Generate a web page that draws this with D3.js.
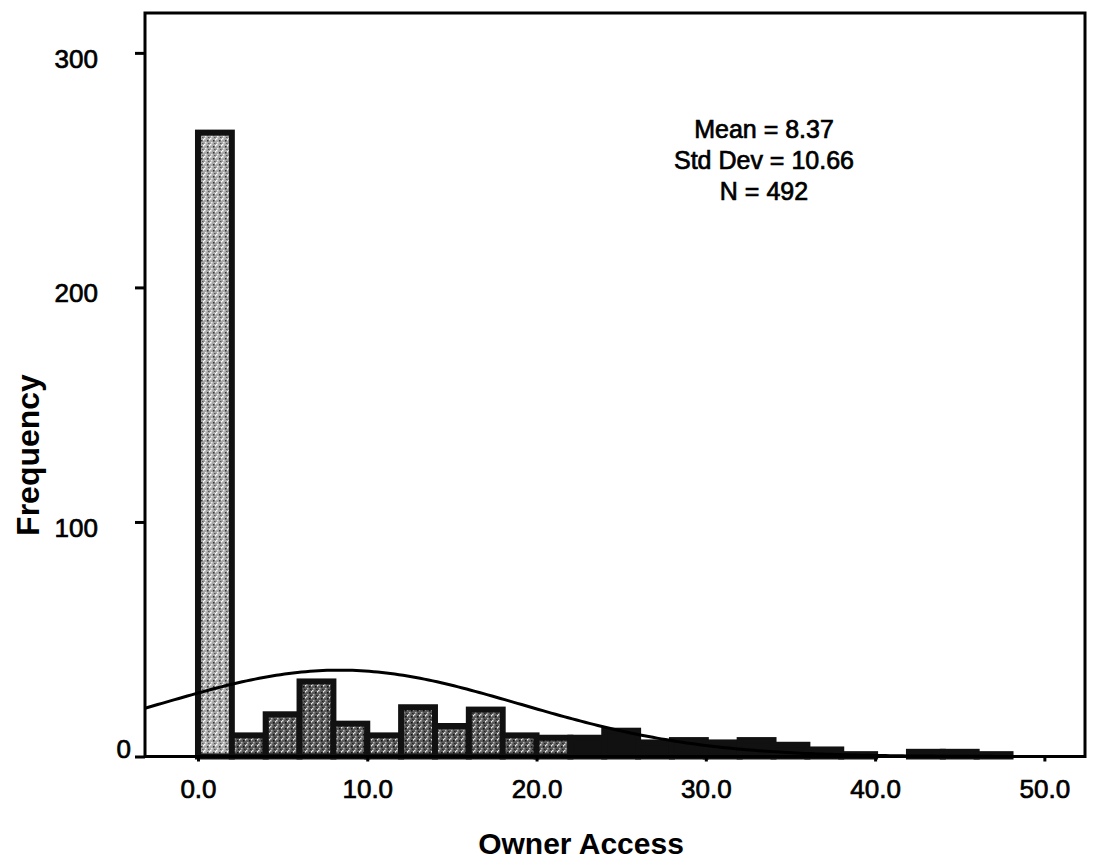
<!DOCTYPE html>
<html>
<head>
<meta charset="utf-8">
<script src="https://d3js.org/d3.v7.min.js"></script>
<style>
  body { margin: 0; background: #fff; }
  text { font-family: "Liberation Sans", Arial, sans-serif; fill: #000; }
  .thick { stroke: #000; stroke-width: 0.7px; }
</style>
</head>
<body>
<svg width="1096" height="859"></svg>
<script>
// histogram bins (lower edge) and counts
const binStart = [0, 2, 4, 6, 8, 10, 12, 14, 16, 18, 20, 22, 24, 26, 28, 30, 32, 34, 36, 38, 40, 42, 44, 46, 48];
const freq     = [266, 9, 18, 32, 14, 9, 21, 13, 20, 9, 8, 8, 11, 6, 7, 6, 7, 5, 3, 1, 0, 2, 2, 1, 0];
const binWidth = 2;

const yTicks = [0, 100, 200, 300];
const xTicks = [0, 10, 20, 30, 40, 50];
const statLines = ["Mean = 8.37", "Std Dev = 10.66", "N = 492"];
const mean = 8.37, sd = 10.66, n = 492;

const svg = d3.select("svg");
const plotL = 145, plotR = 1085, plotT = 13, plotB = 756.5;

const x = d3.scaleLinear().domain([-3.13, 52.4]).range([plotL, plotR]);
const y = d3.scaleLinear().domain([0, 317]).range([plotB, plotT]);

// stipple patterns, like the scanned print
const defs = svg.append("defs");
function stipple(id, base, dots) {
  const p = defs.append("pattern").attr("id", id).attr("patternUnits", "userSpaceOnUse")
    .attr("width", 6).attr("height", 6);
  p.append("rect").attr("width", 6).attr("height", 6).attr("fill", base);
  dots.forEach(d => p.append("rect").attr("x", d[0]).attr("y", d[1]).attr("width", 1.5).attr("height", 1.5).attr("fill", d[2]));
}
stipple("light", "#a8a8a8", [[0,0,"#fff"],[3,2,"#333"],[1,4,"#eee"],[4,5,"#555"],[5,1,"#fff"]]);
stipple("mid", "#5a5a5a", [[0,0,"#ddd"],[3,2,"#111"],[1,4,"#bbb"],[4,5,"#222"],[5,1,"#eee"]]);

const g = svg.append("g");

// bars
g.selectAll("rect.bar")
  .data(binStart.map((b, i) => ({ b: b, v: freq[i], i: i })).filter(d => d.v > 0))
  .enter()
  .append("rect")
  .attr("class", "bar")
  .attr("x", d => x(d.b))
  .attr("width", d => x(d.b + binWidth) - x(d.b))
  .attr("y", d => y(d.v))
  .attr("height", d => y(0) - y(d.v))
  .attr("fill", d => d.i == 0 ? "url(#light)" : (d.i < 11 ? "url(#mid)" : "#111"))
  .attr("stroke", "#111")
  .attr("stroke-width", 6);

// normal curve fitted to the data
const curveX = d3.range(-3.13, 52.4, 0.25);
const line = d3.line()
  .x(d => x(d))
  .y(d => y(n * binWidth / (sd * Math.sqrt(2 * Math.PI)) * Math.exp(-0.5 * Math.pow((d - mean) / sd, 2))));
g.append("path")
  .datum(curveX)
  .attr("d", line)
  .attr("fill", "none")
  .attr("stroke", "#000")
  .attr("stroke-width", 3);

// frame
svg.append("rect")
  .attr("x", plotL).attr("y", plotT)
  .attr("width", plotR - plotL).attr("height", plotB - plotT)
  .attr("fill", "none").attr("stroke", "#000").attr("stroke-width", 3);

// y axis
const yAxis = svg.append("g")
  .attr("transform", "translate(" + plotL + ",0)")
  .call(d3.axisLeft(y).tickValues(yTicks).tickSize(10).tickFormat(d3.format("d")));
yAxis.select(".domain").remove();
yAxis.selectAll("line").attr("stroke", "#000").attr("stroke-width", 3);
yAxis.selectAll("text")
  .attr("class", "thick")
  .attr("font-size", 26)
  .attr("font-family", "Liberation Sans, Arial, sans-serif")
  .attr("x", d => d == 0 ? -14 : -47)
  .attr("dy", d => d == 0 ? "0.05em" : "0.55em");

// x axis
const xAxis = svg.append("g")
  .attr("transform", "translate(0," + plotB + ")")
  .call(d3.axisBottom(x).tickValues(xTicks).tickSize(5).tickFormat(d3.format(".1f")));
xAxis.select(".domain").remove();
xAxis.selectAll("line").attr("stroke", "#000").attr("stroke-width", 3);
xAxis.selectAll("text")
  .attr("class", "thick")
  .attr("font-size", 26)
  .attr("font-family", "Liberation Sans, Arial, sans-serif")
  .attr("y", 23);

// stats box
svg.append("g").selectAll("text")
  .data(statLines)
  .enter()
  .append("text")
  .attr("class", "thick")
  .attr("x", 764)
  .attr("y", (d, i) => 138 + i * 31)
  .attr("text-anchor", "middle")
  .attr("font-size", 25)
  .text(d => d);

// axis titles
svg.append("text")
  .attr("x", 581).attr("y", 854)
  .attr("text-anchor", "middle")
  .attr("font-size", 30).attr("font-weight", "bold")
  .text("Owner Access");

svg.append("text")
  .attr("transform", "translate(39,455) rotate(-90)")
  .attr("text-anchor", "middle")
  .attr("font-size", 32).attr("font-weight", "bold")
  .text("Frequency");
</script>
</body>
</html>
